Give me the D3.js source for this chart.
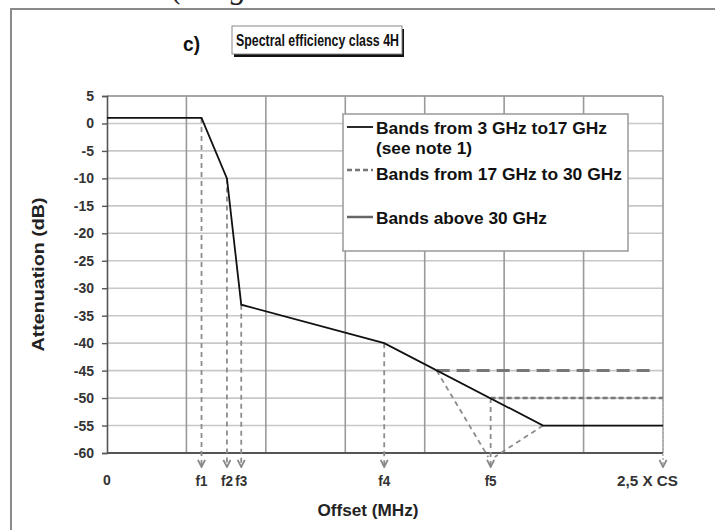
<!DOCTYPE html>
<html>
  <head>
    <meta charset="utf-8">
    <script src="https://d3js.org/d3.v7.min.js"></script>
    <title>Spectral efficiency class 4H</title>
    <style>
      body {
        margin: 0px;
        background: #fff;
      }
      text {
        font-family: 'Liberation Sans', Arial, sans-serif;
        font-weight: bold;
      }
      .tick-label {
        fill: #333;
        font-size: 14px;
      }
      .legend-text {
        fill: #111;
        font-size: 17px;
      }
    </style>
  </head>
  <body>
    <svg width="715" height="530"></svg>
    <script>
      // mask curve, bands 3 GHz to 17 GHz
      const mainX = [0, 1.19, 1.51, 1.69, 3.49, 5.49, 7];
      const mainY = [1, 1, -10, -33, -40, -55, -55];
      // floor, bands 17 GHz to 30 GHz
      const midX = [4.83, 7];
      const midY = [-50, -50];
      // floor, bands above 30 GHz
      const highX = [4.15, 6.88];
      const highY = [-45, -45];

      // frequency markers on the offset axis
      const markerLabels = ['f1', 'f2', 'f3', 'f4', 'f5', '2,5 X CS'];
      const markerX = [1.19, 1.51, 1.69, 3.49, 4.83, 7];
      const markerFromY = [1, -10, -33, -40, -50, -50];
      // slanted guides into f5
      const slantFromX = [4.15, 5.49];
      const slantFromY = [-45, -55];
      const slantToX = [4.80, 4.88];

      const yTicks = d3.range(5, -61, -5);
      const xGrid = d3.range(0, 8);
      const legendLabels = [
        ['Bands from 3 GHz to17 GHz', '(see note 1)'],
        ['Bands from 17 GHz to 30 GHz'],
        ['Bands above 30 GHz']
      ];
      const legendWidths = [231, 96, 246, 171];

      const svg = d3.select('svg');
      const x = d3.scaleLinear().domain([0, 7]).range([107, 663]);
      const y = d3.scaleLinear().domain([-60, 5]).range([453, 96]);
      const arrowTip = y(-60) + 14;

      const zip = (xs, ys) => xs.map((v, i) => [v, ys[i]]);
      const line = d3.line().x(d => x(d[0])).y(d => y(d[1]));
      const fmt = d => String(d);

      svg.append('defs').append('marker')
          .attr('id', 'arrow')
          .attr('viewBox', '0 0 10 10')
          .attr('refX', 9).attr('refY', 5)
          .attr('markerWidth', 9).attr('markerHeight', 9)
          .attr('markerUnits', 'userSpaceOnUse')
          .attr('orient', 'auto')
        .append('path')
          .attr('d', 'M1,1 L9,5 L1,9')
          .attr('fill', 'none')
          .attr('stroke', '#888')
          .attr('stroke-width', 2);

      // cut-off caption from the page above
      svg.append('text')
          .attr('x', 172).attr('y', -2)
          .style('font-family', "'Liberation Serif', serif")
          .style('font-style', 'italic')
          .style('font-weight', 'normal')
          .style('font-size', '32px')
          .attr('fill', '#222')
          .text('(Diag');

      // outer frame
      svg.append('path')
          .attr('d', 'M11,530 L11,9 L715,9')
          .attr('fill', 'none')
          .attr('stroke', '#8a8a8a')
          .attr('stroke-width', 2);

      // gridlines
      svg.append('g').selectAll('line').data(yTicks)
        .join('line')
          .attr('x1', x(0)).attr('x2', x(7))
          .attr('y1', d => y(d)).attr('y2', d => y(d))
          .attr('stroke', d => d === 5 ? '#888' : '#c8c8c8')
          .attr('stroke-width', 1.6);
      svg.append('g').selectAll('line').data(xGrid.slice(1))
        .join('line')
          .attr('x1', d => x(d)).attr('x2', d => x(d))
          .attr('y1', y(5)).attr('y2', y(-60))
          .attr('stroke', '#9a9a9a')
          .attr('stroke-width', 1.6);

      // axes
      const yAxis = d3.axisLeft(y).tickValues(yTicks).tickSize(5).tickFormat(fmt);
      const yAxisG = svg.append('g')
          .attr('transform', `translate(${x(0)},0)`)
          .call(yAxis)
          .attr('font-family', null)
          .attr('font-size', null);
      yAxisG.select('.domain').attr('stroke', '#555').attr('stroke-width', 1.6);
      yAxisG.selectAll('.tick line').attr('stroke', '#555').attr('stroke-width', 1.4);
      yAxisG.selectAll('.tick text')
          .attr('class', 'tick-label')
          .attr('fill', '#333')
          .attr('x', -13);

      svg.append('line')
          .attr('x1', x(0)).attr('x2', x(7))
          .attr('y1', y(-60)).attr('y2', y(-60))
          .attr('stroke', '#555')
          .attr('stroke-width', 2);

      svg.append('text')
          .attr('transform', `translate(44,${(y(5) + y(-60)) / 2}) rotate(-90)`)
          .attr('text-anchor', 'middle')
          .attr('fill', '#222')
          .attr('textLength', 154)
          .attr('lengthAdjust', 'spacingAndGlyphs')
          .style('font-size', '17px')
          .text('Attenuation (dB)');

      // guides to the frequency markers
      const guides = svg.append('g')
          .attr('stroke', '#8c8c8c')
          .attr('stroke-width', 1.8)
          .attr('stroke-dasharray', '5,4')
          .attr('fill', 'none');
      guides.selectAll('line.v').data(markerX)
        .join('line')
          .attr('class', 'v')
          .attr('x1', d => x(d)).attr('x2', d => x(d))
          .attr('y1', (d, i) => y(markerFromY[i]))
          .attr('y2', arrowTip)
          .attr('stroke-dasharray', (d, i) => i === 5 ? '2,2' : '5,4')
          .attr('stroke', (d, i) => i === 5 ? '#bbb' : '#8c8c8c')
          .attr('marker-end', 'url(#arrow)');
      guides.selectAll('line.s').data(slantFromX)
        .join('line')
          .attr('class', 's')
          .attr('x1', d => x(d))
          .attr('y1', (d, i) => y(slantFromY[i]))
          .attr('x2', (d, i) => x(slantToX[i]))
          .attr('y2', y(-60) + 4);

      // series
      svg.append('path')
          .datum(zip(highX, highY))
          .attr('d', line)
          .attr('fill', 'none')
          .attr('stroke', '#777')
          .attr('stroke-width', 3)
          .attr('stroke-dasharray', '13,7');
      svg.append('path')
          .datum(zip(midX, midY))
          .attr('d', line)
          .attr('fill', 'none')
          .attr('stroke', '#777')
          .attr('stroke-width', 2.5)
          .attr('stroke-dasharray', '5,3');
      svg.append('path')
          .datum(zip(mainX, mainY))
          .attr('d', line)
          .attr('fill', 'none')
          .attr('stroke', '#111')
          .attr('stroke-width', 1.8);

      // marker labels
      svg.append('g').selectAll('text').data(markerLabels)
        .join('text')
          .attr('class', 'tick-label')
          .attr('x', (d, i) => i === 5 ? 617 : x(markerX[i]))
          .attr('y', 486)
          .attr('text-anchor', (d, i) => i === 5 ? 'start' : 'middle')
          .attr('textLength', (d, i) => i === 5 ? 61 : 12)
          .attr('lengthAdjust', 'spacingAndGlyphs')
          .style('font-size', '15px')
          .text(d => d);
      svg.append('text')
          .attr('class', 'tick-label')
          .attr('x', x(0)).attr('y', 485)
          .attr('text-anchor', 'middle')
          .text(fmt(xGrid[0]));

      svg.append('text')
          .attr('x', 368).attr('y', 516)
          .attr('text-anchor', 'middle')
          .attr('fill', '#222')
          .attr('textLength', 101)
          .attr('lengthAdjust', 'spacingAndGlyphs')
          .style('font-size', '17px')
          .text('Offset (MHz)');

      // title
      svg.append('text')
          .attr('x', 183).attr('y', 51)
          .attr('fill', '#111')
          .attr('textLength', 17)
          .attr('lengthAdjust', 'spacingAndGlyphs')
          .style('font-size', '20px')
          .text('c)');
      svg.append('rect')
          .attr('x', 234).attr('y', 29)
          .attr('width', 170).attr('height', 28)
          .attr('fill', '#111');
      svg.append('rect')
          .attr('x', 232).attr('y', 26)
          .attr('width', 170).attr('height', 28)
          .attr('fill', '#fff')
          .attr('stroke', '#888')
          .attr('stroke-width', 1);
      svg.append('text')
          .attr('x', 236).attr('y', 46)
          .attr('fill', '#111')
          .attr('textLength', 163)
          .attr('lengthAdjust', 'spacingAndGlyphs')
          .style('font-size', '17px')
          .text('Spectral efficiency class 4H');

      // legend
      const legendG = svg.append('g').attr('transform', 'translate(343,114)');
      legendG.append('rect')
          .attr('width', 285).attr('height', 137)
          .attr('fill', '#fff')
          .attr('stroke', '#999')
          .attr('stroke-width', 1.5);
      const sampleY = [13, 56, 103];
      const textY = [20, 40, 66, 110];
      const sampleStyle = [
        { stroke: '#111', width: 1.8, dash: null },
        { stroke: '#777', width: 2.5, dash: '5,3' },
        { stroke: '#666', width: 2.5, dash: null }
      ];
      legendG.selectAll('line').data(sampleStyle)
        .join('line')
          .attr('x1', 4).attr('x2', 30)
          .attr('y1', (d, i) => sampleY[i]).attr('y2', (d, i) => sampleY[i])
          .attr('stroke', d => d.stroke)
          .attr('stroke-width', d => d.width)
          .attr('stroke-dasharray', d => d.dash);
      const legendLines = legendLabels.flat();
      legendG.selectAll('text').data(legendLines)
        .join('text')
          .attr('class', 'legend-text')
          .attr('x', 33)
          .attr('y', (d, i) => textY[i])
          .attr('textLength', (d, i) => legendWidths[i])
          .attr('lengthAdjust', 'spacingAndGlyphs')
          .text(d => d);
    </script>
  </body>
</html>
